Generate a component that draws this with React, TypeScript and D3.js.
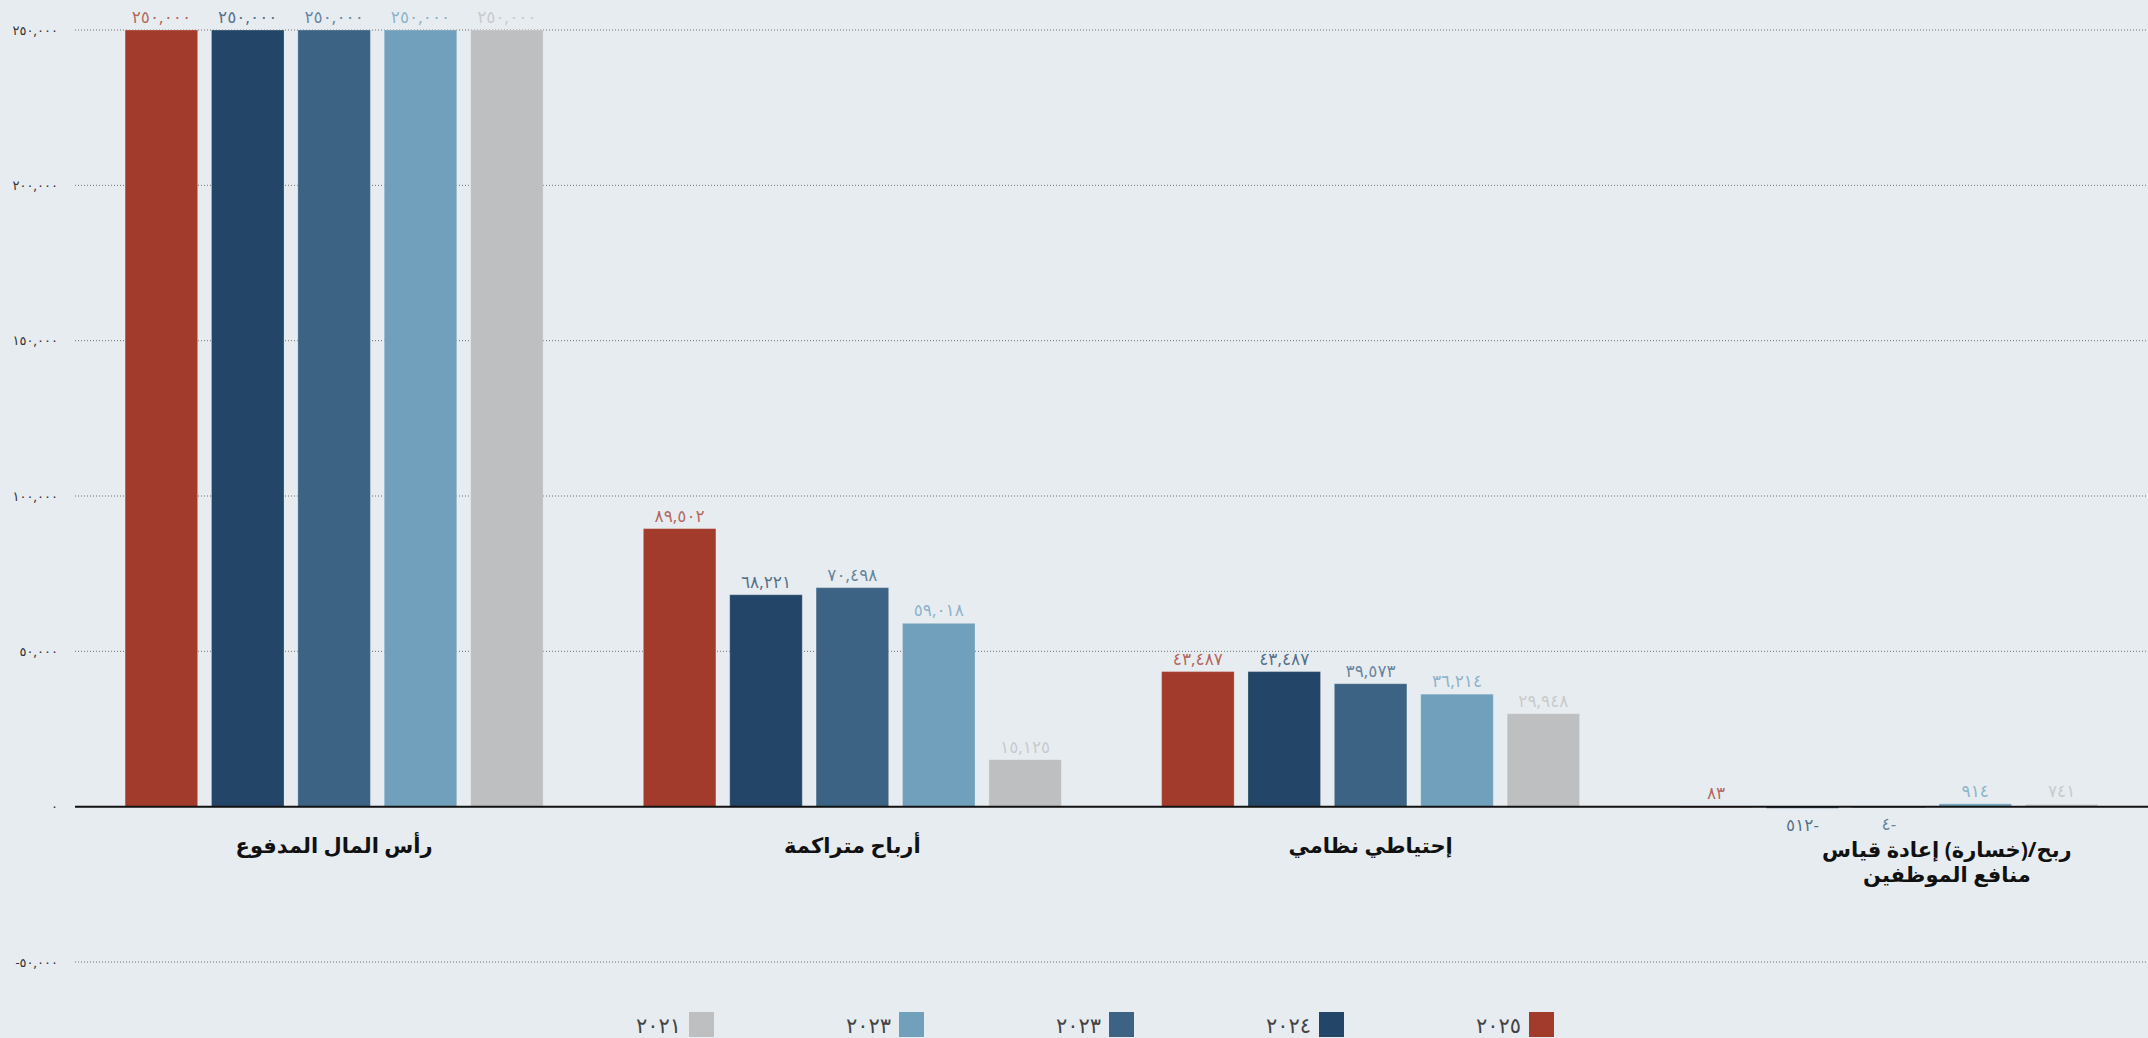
import React from 'react';
import * as d3 from 'd3';

const categories = [
    ['رأس المال المدفوع'],
    ['أرباح متراكمة'],
    ['إحتياطي نظامي'],
    ['ربح/(خسارة) إعادة قياس', 'منافع الموظفين'],
];
const seriesNames = ['٢٠٢٥', '٢٠٢٤', '٢٠٢٣', '٢٠٢٣', '٢٠٢١'];
const seriesColors = ['#a33b2c', '#234668', '#3c6384', '#70a0bb', '#bebfc0'];
const values2025 = [250000, 89502, 43487, 83];
const values2024 = [250000, 68221, 43487, -512];
const values2023 = [250000, 70498, 39573, -4];
const values2023b = [250000, 59018, 36214, 914];
const values2021 = [250000, 15125, 29948, 741];
const seriesValues = [values2025, values2024, values2023, values2023b, values2021];
const yTicks = [-50000, 0, 50000, 100000, 150000, 200000, 250000];

const W = 2148;
const H = 1038;
const FONT = "'Noto Sans', 'DejaVu Sans', sans-serif";

const arabicDigits = '٠١٢٣٤٥٦٧٨٩';
const toArabic = (s: string) => s.replace(/[0-9]/g, (d) => arabicDigits[+d]);
const fmt = (v: number) => toArabic(d3.format(',')(v));

export default function App() {
    const x0 = d3.scaleBand<number>()
        .domain(categories.map((_, i) => i))
        .range([75, W]);
    const x1 = d3.scaleBand<number>()
        .domain(seriesNames.map((_, i) => i))
        .range([0, x0.bandwidth()])
        .paddingInner(0.16)
        .paddingOuter(0.58);
    const y = d3.scaleLinear().domain([-50000, 250000]).range([962, 30]);

    // legend goes right-to-left: first series on the right
    const legendX = d3.scaleBand<number>()
        .domain(seriesNames.map((_, i) => i).reverse())
        .range([630, 1680]);

    return (
        <svg width={W} height={H} style={{ position: 'absolute', left: 0, top: 0, background: '#e7ecf0' }}
            fontFamily={FONT}>
            <rect width={W} height={H} fill="#e7ecf0" />

            {/* grid + y labels */}
            {yTicks.map((t) => (
                <g key={t}>
                    {t !== 0 && (
                        <line x1={75} x2={W} y1={y(t)} y2={y(t)} stroke="#6f6f6f"
                            strokeWidth={1} strokeDasharray="1 2" />
                    )}
                    <text x={58} y={y(t)} dy="0.35em" textAnchor="end" fontSize={13} fill="#333">
                        {t < 0 ? '-' + fmt(-t) : fmt(t)}
                    </text>
                </g>
            ))}

            {/* bars */}
            {seriesValues.map((vals, s) => (
                <g key={s}>
                    {vals.map((v, c) => {
                        const bx = (x0(c) ?? 0) + (x1(s) ?? 0);
                        const top = y(Math.max(v, 0));
                        const h = Math.max(Math.abs(y(v) - y(0)), 1);
                        return (
                            <g key={c}>
                                <rect x={bx} y={top} width={x1.bandwidth()} height={h}
                                    fill={seriesColors[s]} stroke="rgba(255,255,255,0.25)" strokeWidth={1} />
                                <text x={bx + x1.bandwidth() / 2} y={v >= 0 ? top - 7 : y(v) + 23}
                                    textAnchor="middle" fontSize={17}
                                    fill={seriesColors[s]} fillOpacity={0.75}
                                    style={{ direction: 'rtl', unicodeBidi: 'embed' }}>
                                    {v < 0 ? '-' + fmt(-v) : fmt(v)}
                                </text>
                            </g>
                        );
                    })}
                </g>
            ))}

            {/* zero line */}
            <line x1={75} x2={W} y1={y(0)} y2={y(0)} stroke="#111" strokeWidth={2} />

            {/* category labels */}
            {categories.map((lines, c) => {
                const cx = (x0(c) ?? 0) + x0.bandwidth() / 2 + (lines.length > 1 ? 58 : 0);
                const base = lines.length > 1 ? 857 : 853;
                return (
                    <text key={c} textAnchor="middle" fontSize={21} fontWeight="bold" fill="#111"
                        style={{ direction: 'rtl' }}>
                        {lines.map((l, i) => (
                            <tspan key={i} x={cx} y={base + i * 25}>{l}</tspan>
                        ))}
                    </text>
                );
            })}

            {/* legend */}
            {seriesNames.map((name, s) => {
                const lx = legendX(s) ?? 0;
                return (
                    <g key={s}>
                        <rect x={lx + 59} y={1012} width={25} height={25} fill={seriesColors[s]} />
                        <text x={lx + 51} y={1033} textAnchor="end" fontSize={21} fill="#444">{name}</text>
                    </g>
                );
            })}
        </svg>
    );
}
